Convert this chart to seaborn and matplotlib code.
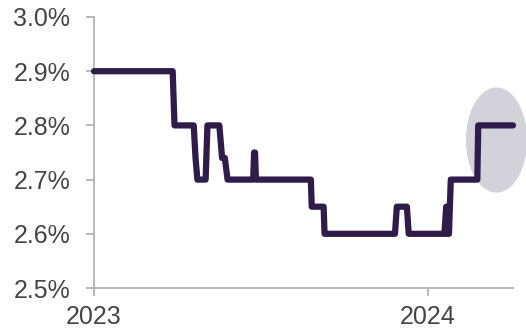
import matplotlib
matplotlib.use("Agg")
import matplotlib.pyplot as plt
import matplotlib.dates as mdates
from matplotlib.patches import Ellipse
import numpy as np
import pandas as pd
import seaborn as sns

# Step-like rate path (vertices of the series)
dates = [
    "2023-01-01", "2023-03-28", "2023-03-30", "2023-04-20", "2023-04-22",
    "2023-04-24", "2023-05-03", "2023-05-05", "2023-05-18", "2023-05-21",
    "2023-05-24", "2023-05-27", "2023-06-24", "2023-06-25", "2023-06-26",
    "2023-06-27", "2023-08-26", "2023-08-27", "2023-09-09", "2023-09-10",
    "2023-11-26", "2023-11-28", "2023-12-09", "2023-12-11", "2024-01-19",
    "2024-01-21", "2024-01-22", "2024-01-24", "2024-01-26", "2024-02-24",
    "2024-02-25", "2024-04-03",
]
rates = [
    2.90, 2.90, 2.80, 2.80, 2.74,
    2.70, 2.70, 2.80, 2.80, 2.74,
    2.74, 2.70, 2.70, 2.75, 2.75,
    2.70, 2.70, 2.65, 2.65, 2.60,
    2.60, 2.65, 2.65, 2.60, 2.60,
    2.65, 2.60, 2.60, 2.70, 2.70,
    2.80, 2.80,
]
y_ticks = [2.5, 2.6, 2.7, 2.8, 2.9, 3.0]
x_tick_dates = ["2023-01-01", "2024-01-01"]
x_tick_labels = ["2023", "2024"]

# Highlight around the latest move
highlight_center = ("2024-03-16", 2.773)
highlight_width_days = 67
highlight_height = 0.194

df = pd.DataFrame({"date": pd.to_datetime(dates), "rate": rates})

sns.set_style("white")
plt.rcParams["font.family"] = ["Liberation Sans", "DejaVu Sans"]

line_color = "#2f1c4b"
text_color = "#444444"
spine_color = "#b4b4b4"

fig = plt.figure(figsize=(5.26, 3.33), dpi=100)
ax = fig.add_axes([94 / 526, 1 - 288 / 333, (513 - 94) / 526, (288 - 17) / 333])

cx = mdates.date2num(pd.Timestamp(highlight_center[0]))
ell = Ellipse((cx, highlight_center[1]), highlight_width_days, highlight_height,
              facecolor="#d3d1da", edgecolor="none", zorder=1, clip_on=False)
ax.add_patch(ell)

sns.lineplot(data=df, x="date", y="rate", ax=ax, color=line_color,
             linewidth=4.5, estimator=None, sort=False, zorder=3)
for ln in ax.lines:
    ln.set_solid_capstyle("round")
    ln.set_solid_joinstyle("round")
    ln.set_clip_on(False)

ax.set_xlim(pd.Timestamp("2023-01-01"), pd.Timestamp("2024-04-03"))
ax.set_ylim(2.5, 3.0)
ax.set_yticks(y_ticks)
ax.set_yticklabels([f"{v:.1f}%" for v in y_ticks])
ax.set_xticks(pd.to_datetime(x_tick_dates))
ax.set_xticklabels(x_tick_labels)
ax.set_xlabel("")
ax.set_ylabel("")

for side in ["top", "right"]:
    ax.spines[side].set_visible(False)
for side in ["left", "bottom"]:
    ax.spines[side].set_color(spine_color)
    ax.spines[side].set_linewidth(1.3)

ax.tick_params(axis="y", length=6, width=1.3, color=spine_color,
               labelsize=18, labelcolor=text_color, pad=11, left=True)
ax.tick_params(axis="x", length=6, width=1.3, color=spine_color,
               labelsize=18, labelcolor=text_color, pad=6, bottom=True)

fig.savefig("out.png", dpi=100)
